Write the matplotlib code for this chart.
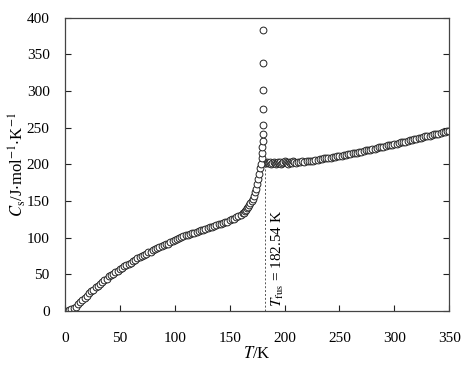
import matplotlib
matplotlib.use("Agg")
import matplotlib.pyplot as plt

plt.rcParams["font.family"] = "serif"
plt.rcParams["font.serif"] = ["Liberation Serif", "DejaVu Serif"]
plt.rcParams["mathtext.fontset"] = "stix"

# solid phase + fusion peak
T_solid = [2, 4, 6, 8, 10, 12, 14, 16, 18, 20, 22, 24, 26, 28, 30, 32, 34, 36, 38, 40,
           42, 44, 46, 48, 50, 52, 54, 56, 58, 60, 62, 64, 66, 68, 70, 72, 74, 76, 78, 80,
           82, 84, 86, 88, 90, 92, 94, 96, 98, 100, 102, 104, 106, 108, 110, 112, 114, 116,
           118, 120, 122, 124, 126, 128, 130, 132, 134, 136, 138, 140, 142, 144, 146, 148,
           150, 152, 154, 156, 158, 160, 162, 163, 164, 165, 166, 167, 168, 169, 170, 171,
           172, 173, 174, 175, 176, 177, 178]
C_solid = [0.5, 1, 2, 4, 6, 9, 12, 15, 18, 21, 24, 27, 29, 32, 34, 37, 39, 42, 44, 47,
           49, 51, 53, 55, 57, 59, 61, 62, 64, 66, 68, 70, 72, 73, 75, 77, 78, 80, 81, 83,
           84, 86, 87, 88, 90, 91, 92, 94, 95, 97, 98, 100, 101, 102, 103, 104, 105, 106,
           107, 108, 109, 110, 111, 112, 113, 114, 115, 116, 117, 118, 119, 120, 121, 122,
           124, 125, 126, 128, 129, 131, 133, 134, 136, 138, 140, 142, 144, 147, 150, 153,
           157, 162, 167, 173, 180, 187, 195]
T_peak = [179, 179.3, 179.6, 179.8, 180, 180.2, 180.4, 180.5, 180.6, 180.7, 180.8]
C_peak = [201, 209, 216, 224, 232, 242, 254, 276, 302, 338, 383]

# liquid phase
T_liquid = [181, 182, 183, 184, 185, 186, 187, 188, 189, 190, 191, 192, 193, 194, 195,
            196, 197, 198, 199, 200, 201, 202, 203, 204, 205, 206, 207, 208, 209, 210,
            212, 214, 216, 218, 220, 222, 224, 226, 228, 230, 232, 234, 236, 238, 240,
            242, 244, 246, 248, 250, 252, 254, 256, 258, 260, 262, 264, 266, 268, 270,
            272, 274, 276, 278, 280, 282, 284, 286, 288, 290, 292, 294, 296, 298, 300,
            302, 304, 306, 308, 310, 312, 314, 316, 318, 320, 322, 324, 326, 328, 330,
            332, 334, 336, 338, 340, 342, 344, 346, 348, 350]
C_liquid = [203, 202, 202, 203, 202, 202, 203, 201, 202, 203, 202, 201, 202, 203, 202,
            203, 201, 202, 203, 205, 203, 202, 201, 203, 202, 203, 202, 204, 203, 202,
            203, 203, 204, 203, 204, 204, 205, 205, 206, 206, 207, 207, 208, 208, 209,
            209, 210, 210, 211, 211, 212, 213, 213, 214, 214, 215, 216, 216, 217, 217,
            218, 219, 219, 220, 221, 221, 222, 223, 223, 224, 225, 226, 226, 227, 228,
            228, 229, 230, 230, 231, 232, 233, 233, 234, 235, 236, 236, 237, 238, 239,
            239, 240, 241, 241, 242, 243, 244, 244, 245, 246]

T_fus = 182.54
x_ticks = [0, 50, 100, 150, 200, 250, 300, 350]
y_ticks = [0, 50, 100, 150, 200, 250, 300, 350, 400]

fig = plt.figure(figsize=(4.7, 3.68), dpi=100)
ax = fig.add_axes([0.138, 0.155, 0.818, 0.797])

mk = dict(ls="none", marker="o", ms=4.9, mfc="white", mec="#222222", mew=0.7)
ax.plot(T_solid, C_solid, **mk)
ax.plot(T_liquid, C_liquid, **mk)
ax.plot(T_peak, C_peak, **mk)

ax.plot([T_fus, T_fus], [0, C_liquid[1]], ls=(0, (2, 2)), lw=0.7, c="#555555")
ax.text(T_fus + 11, 6, r"$T_{\rm fus}$ = 182.54 K", rotation=90,
        ha="center", va="bottom", fontsize=11)

ax.set_xlim(0, 350)
ax.set_ylim(0, 400)
ax.set_xticks(x_ticks)
ax.set_yticks(y_ticks)
ax.tick_params(direction="in", length=4, width=0.8, labelsize=11, right=True,
               top=False, colors="#222222", labelcolor="black")
ax.tick_params(axis="x", pad=15)
ax.tick_params(axis="y", pad=11)
for s in ax.spines.values():
    s.set_color("#444444")
    s.set_linewidth(0.9)

ax.set_xlabel(r"$T$/K", fontsize=12, labelpad=1)
ax.set_ylabel(r"$C_{\rm s}$/J$\cdot$mol$^{-1}$$\cdot$K$^{-1}$", fontsize=12)
ax.yaxis.set_label_coords(-0.095, 0.5)

fig.savefig("out.png", dpi=100)
